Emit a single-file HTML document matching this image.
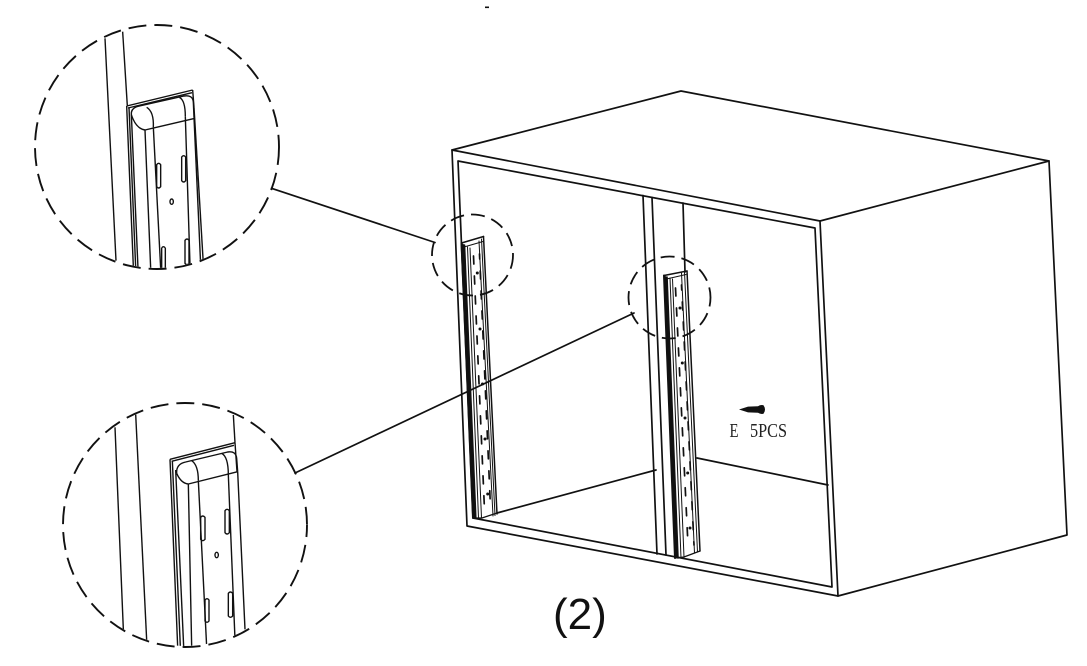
<!DOCTYPE html>
<html>
<head>
<meta charset="utf-8">
<style>
html,body{margin:0;padding:0;background:#fff;}
body{width:1087px;height:666px;overflow:hidden;}
svg{display:block;}
.z *{vector-effect:non-scaling-stroke;}
</style>
</head>
<body>
<svg width="1087" height="666" viewBox="0 0 1087 666" xmlns="http://www.w3.org/2000/svg">
<defs>
  <clipPath id="c1"><circle cx="157" cy="147" r="121"/></clipPath>
  <clipPath id="c2"><circle cx="185" cy="525" r="121"/></clipPath>
</defs>
<rect width="1087" height="666" fill="#fff"/>

<!-- small top mark -->
<rect x="485" y="6.5" width="4" height="1.6" fill="#111"/>

<!-- ===== Cabinet ===== -->
<g fill="none" stroke="#111" stroke-width="1.7" stroke-linejoin="round" stroke-linecap="round">
  <path d="M452,150 L681,91 L1049,161 L820,221"/>
  <path d="M452,150 L820,221 L838,596 L467,526 Z"/>
  <path d="M1049,161 L1067,535 L838,596"/>
  <path d="M458,161 L815,228 L832,587 L473,518 Z"/>
  <path d="M643,195.5 L657,554"/>
  <path d="M652,197.5 L666,555"/>
  <path d="M683,203 L685,272"/>
  <path d="M497,513 L656,470"/>
  <path d="M697,458 L828,485"/>
  <path d="M271.5,188.3 L435,242.5"/>
  <path d="M295,473 L634,313"/>
</g>

<!-- Left rail -->
<g fill="none" stroke="#111" stroke-linecap="round">
  <polygon points="461.5,243 465,245 476,518 473,518" fill="#111" stroke="none"/>
  <path d="M461.5,243 L473,518" stroke-width="2"/>
  <path d="M464.5,245 L475.8,518" stroke-width="1.6"/>
  <path d="M467.5,247 L478.5,518" stroke-width="1"/>
  <path d="M470,248 L481.5,518" stroke-width="1"/>
  <path d="M479,241 L493,516" stroke-width="1"/>
  <path d="M481.5,239 L495,515.5" stroke-width="1"/>
  <path d="M483.5,236.5 L497,514" stroke-width="1.5"/>
  <path d="M461.5,243 L483.5,236.5" stroke-width="1.5"/>
  <path d="M464,247 L483,241.5" stroke-width="1"/>
  <path d="M473,518 L482,518 L497,513" stroke-width="1.3"/>
  <path d="M473.5,256 L484.5,510" stroke-width="1.7" stroke-dasharray="8 12"/>
  <path d="M479.5,254 L490.5,508" stroke-width="1.7" stroke-dasharray="8 12" stroke-dashoffset="3"/>
</g>
<g fill="#111">
  <circle cx="477.3" cy="273" r="1.5"/>
  <circle cx="480" cy="329" r="1.5"/>
  <circle cx="482.5" cy="384" r="1.5"/>
  <circle cx="485" cy="439" r="1.5"/>
  <circle cx="487.7" cy="494" r="1.5"/>
</g>

<!-- Middle rail -->
<g fill="none" stroke="#111" stroke-linecap="round">
  <polygon points="664,275.5 667.5,277 678,558 675,558" fill="#111" stroke="none"/>
  <path d="M664,275.5 L675,558" stroke-width="2"/>
  <path d="M667,277 L678,558" stroke-width="1.6"/>
  <path d="M670,278 L681,558" stroke-width="1"/>
  <path d="M672.5,279 L684,557" stroke-width="1"/>
  <path d="M681.5,273 L694.5,553" stroke-width="1"/>
  <path d="M684.5,272 L697.5,552" stroke-width="1"/>
  <path d="M687,271 L700,551" stroke-width="1.5"/>
  <path d="M664,275.5 L687,271" stroke-width="1.5"/>
  <path d="M666.5,279 L686,274.5" stroke-width="1"/>
  <path d="M675,558 L684,557 L700,551" stroke-width="1.3"/>
  <path d="M675.5,288 L688,545" stroke-width="1.7" stroke-dasharray="8 12"/>
  <path d="M681.5,285 L694,545" stroke-width="1.7" stroke-dasharray="8 12" stroke-dashoffset="3"/>
</g>
<g fill="#111">
  <circle cx="680" cy="308" r="1.5"/>
  <circle cx="682.3" cy="363" r="1.5"/>
  <circle cx="685" cy="418" r="1.5"/>
  <circle cx="687.7" cy="473" r="1.5"/>
  <circle cx="690" cy="528" r="1.5"/>
</g>

<!-- small dashed circles -->
<g fill="none" stroke="#111" stroke-width="1.8">
  <circle cx="472.5" cy="255" r="40.5" stroke-dasharray="14 7"/>
  <circle cx="669.5" cy="297.5" r="41" stroke-dasharray="14 7" stroke-dashoffset="5"/>
</g>

<!-- big dashed circles -->
<g fill="none" stroke="#111" stroke-width="1.9">
  <circle cx="157" cy="147" r="122" stroke-dasharray="18 8"/>
  <circle cx="185" cy="525" r="122" stroke-dasharray="18 8" stroke-dashoffset="6"/>
</g>

<!-- Circle 1 detail -->
<g clip-path="url(#c1)">
 <g class="z" transform="translate(30,20) scale(0.33333)" fill="none" stroke="#111" stroke-width="1.4" stroke-linejoin="round">
  <path d="M225,55 L258,722"/>
  <path d="M278,35 L292,258"/>
  <path d="M290,258 L488,210"/>
  <path d="M294,264 L486,218"/>
  <path d="M488,210 L492,262"/>
  <path d="M290,258 L310,740"/>
  <path d="M297,262 L317,742"/>
  <path d="M304,282 L324,745"/>
  <path d="M304,282 Q303,262 332,257 L462,228 Q488,224 490,246 L492,292"/>
  <path d="M345,330 L495,295"/>
  <path d="M304,284 Q318,326 345,330"/>
  <path d="M350,262 Q372,275 370,322"/>
  <path d="M448,232 Q466,240 466,290"/>
  <path d="M345,330 L362,745"/>
  <path d="M370,322 L392,745"/>
  <path d="M466,290 L480,735"/>
  <path d="M492,262 L520,732"/>
  <path d="M492,292 L512,735"/>
  <path d="M380,434 L380,500 Q386,508 392,500 L392,434 Q386,426 380,434 Z"/>
  <path d="M455,411 L455,482 Q461,490 467,482 L467,411 Q461,403 455,411 Z"/>
  <path d="M395,684 L395,745 M406,684 L406,745 M395,684 Q400,676 406,684"/>
  <path d="M465,661 L465,730 Q471,738 477,730 L477,661 Q471,653 465,661 Z"/>
  <ellipse cx="425" cy="545" rx="5" ry="8"/>
 </g>
</g>

<!-- Circle 2 detail -->
<g clip-path="url(#c2)">
 <g class="z" transform="translate(55,390) scale(0.33333)" fill="none" stroke="#111" stroke-width="1.4" stroke-linejoin="round">
  <path d="M180,112 L205,718"/>
  <path d="M242,72 L275,750"/>
  <path d="M535,75 L540,158"/>
  <path d="M345,208 L540,158"/>
  <path d="M350,214 L537,166"/>
  <path d="M540,158 L546,245"/>
  <path d="M345,208 L368,770"/>
  <path d="M352,212 L376,770"/>
  <path d="M362,240 L386,770"/>
  <path d="M365,250 Q363,222 392,216 L518,186 Q543,182 545,205 L548,245"/>
  <path d="M400,282 L548,245"/>
  <path d="M365,250 Q378,280 400,282"/>
  <path d="M410,212 Q430,225 430,272"/>
  <path d="M500,190 Q520,200 520,255"/>
  <path d="M400,282 L410,770"/>
  <path d="M430,272 L455,770"/>
  <path d="M520,255 L540,748"/>
  <path d="M548,245 L570,718"/>
  <path d="M437,382 L437,448 Q443,456 450,448 L450,382 Q443,374 437,382 Z"/>
  <path d="M510,362 L510,428 Q516,436 523,428 L523,362 Q516,354 510,362 Z"/>
  <path d="M450,630 L450,693 Q456,701 462,693 L462,630 Q456,622 450,630 Z"/>
  <path d="M520,610 L520,678 Q526,686 533,678 L533,610 Q526,602 520,610 Z"/>
  <ellipse cx="485" cy="495" rx="5" ry="8"/>
 </g>
</g>

<!-- screw -->
<path d="M739,409.5 L748,406.6 L758,406.2 Q760.5,404.6 763.5,405.2 Q766.5,409.5 763.5,413.8 Q760.5,414.4 758,412.8 L748,412.4 Z" fill="#111"/>
<g font-family="'Liberation Serif', serif" font-size="20" fill="#222">
  <text x="729.5" y="437" textLength="9" lengthAdjust="spacingAndGlyphs">E</text>
  <text x="750" y="437" textLength="37" lengthAdjust="spacingAndGlyphs">5PCS</text>
</g>

<!-- step label -->
<text x="553" y="629" font-family="'Liberation Sans', sans-serif" font-size="44" fill="#111">(2)</text>
</svg>
</body>
</html>
